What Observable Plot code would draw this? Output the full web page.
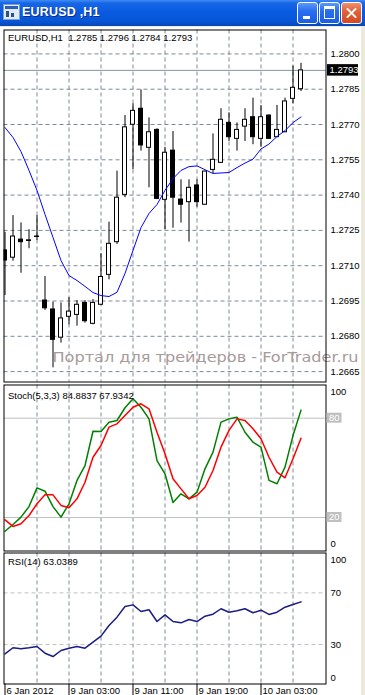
<!DOCTYPE html>
<html><head><meta charset="utf-8">
<script src="https://cdn.jsdelivr.net/npm/d3@7"></script>
<script src="https://cdn.jsdelivr.net/npm/@observablehq/plot@0.6"></script>
<style>
html,body{margin:0;padding:0;}
body{width:365px;height:695px;overflow:hidden;background:#ece9d8;position:relative;font-family:"Liberation Sans",Arial,sans-serif;}
#titlebar{position:absolute;left:0;top:0;width:365px;height:26px;
 background:linear-gradient(to bottom,#3f8cf3 0%,#1766e6 12%,#0a5be0 45%,#0756d8 80%,#0747b8 100%);}
#ttext{position:absolute;left:22px;top:5px;color:#fff;font:bold 12.5px "Liberation Sans",Arial,sans-serif;text-shadow:1px 1px 0 #0b2a8a;letter-spacing:0.2px;}
#icon{position:absolute;left:3px;top:4px;width:15px;height:14px;background:#dfe9f7;border:1px solid #7aa0d8;}
#icon .a{position:absolute;left:1px;top:1px;width:13px;height:3px;background:#2a5fc0;}
#icon .b{position:absolute;left:2px;top:6px;width:3px;height:6px;background:#305080;}
#icon .c{position:absolute;left:7px;top:8px;width:3px;height:4px;background:#305080;}
.btn{position:absolute;top:2px;width:19px;height:20px;border:1px solid #fff;border-radius:3px;
 background:linear-gradient(to bottom,#5a9af8 0%,#2a6ef0 40%,#1a5de2 100%);}
#bmin{left:297px;} #bmax{left:319px;}
#bclose{left:341px;background:linear-gradient(to bottom,#f09070 0%,#e2623a 40%,#d24a22 100%);}
#bmin .g{position:absolute;left:5px;top:13px;width:7px;height:3px;background:#fff;}
#bmax .g{position:absolute;left:4px;top:3px;width:9px;height:9px;border:1px solid #fff;border-top-width:3px;}
#bclose .g1,#bclose .g2{position:absolute;left:3px;top:9px;width:13px;height:2px;background:#fff;}
#bclose .g1{transform:rotate(45deg);} #bclose .g2{transform:rotate(-45deg);}
#chartbg{position:absolute;left:0;top:27px;width:361px;height:668px;background:#fff;}
.panel{position:absolute;left:2px;}
</style></head><body>
<div id="titlebar">
 <div id="icon"><div class="a"></div><div class="b"></div><div class="c"></div></div>
 <div id="ttext">EURUSD ,H1</div>
 <div class="btn" id="bmin"><div class="g"></div></div>
 <div class="btn" id="bmax"><div class="g"></div></div>
 <div class="btn" id="bclose"><div class="g1"></div><div class="g2"></div></div>
</div>
<div id="chartbg"></div>
<div class="panel" id="p1" style="top:28px"></div>
<div class="panel" id="p2" style="top:383px"></div>
<div class="panel" id="p3" style="top:551px"></div>
<script>
// ---- data (hourly bars, 6 Jan 2012 19:00 .. 10 Jan 2012 08:00) ----
const opens  = [1.27165,1.27134,1.27211,1.27205,1.27222,1.26952,1.26914,1.26794,1.26883,1.26891,1.26942,1.26853,1.26934,1.27061,1.27200,1.27401,1.27699,1.27767,1.27601,1.27677,1.27380,1.27589,1.27381,1.27370,1.27441,1.27359,1.27507,1.27537,1.27707,1.27639,1.27691,1.27731,1.27639,1.27738,1.27646,1.27667,1.27809,1.2785];
const highs  = [1.27242,1.27313,1.27282,1.27253,1.27313,1.27054,1.26945,1.26942,1.26964,1.26952,1.26952,1.26956,1.27151,1.27285,1.27502,1.27738,1.27788,1.27847,1.27728,1.27682,1.27603,1.27670,1.27465,1.27465,1.27465,1.27502,1.27660,1.27767,1.27750,1.27707,1.27767,1.27812,1.27781,1.27741,1.27781,1.27812,1.27948,1.2796];
const lows   = [1.26973,1.27119,1.27068,1.27172,1.27207,1.26910,1.26666,1.26771,1.26849,1.26843,1.26856,1.26849,1.26931,1.27040,1.27190,1.27389,1.27508,1.27587,1.27431,1.27381,1.27253,1.27259,1.27281,1.27200,1.27349,1.27356,1.27491,1.27535,1.27628,1.27587,1.27628,1.27614,1.27603,1.27637,1.27645,1.27666,1.27788,1.2784];
const closes = [1.27122,1.27224,1.27200,1.27208,1.27224,1.26919,1.26785,1.26876,1.26905,1.26934,1.26864,1.26942,1.27052,1.27193,1.27389,1.27688,1.27758,1.27611,1.27667,1.27384,1.27580,1.27389,1.27359,1.27431,1.27370,1.27500,1.27550,1.27720,1.27646,1.27677,1.27720,1.27646,1.27731,1.27639,1.27677,1.27798,1.27856,1.2793];
const ma     = [1.27687,1.27645,1.27585,1.27505,1.27420,1.27318,1.27220,1.27122,1.27058,1.27037,1.27012,1.26986,1.26973,1.26969,1.26987,1.27067,1.27165,1.27262,1.27322,1.27360,1.27420,1.27470,1.27505,1.27521,1.27524,1.27508,1.27492,1.27494,1.27496,1.27517,1.27536,1.27553,1.27596,1.27617,1.27649,1.27674,1.27708,1.27732];
const stochK = [11.7,15.8,20.2,26.6,37.9,35.9,26.6,20.2,28.3,42.4,51.4,72.1,72.0,77.6,78.6,86.3,91.7,86.6,79.6,54.4,46.4,29.1,34.3,31.3,35.3,49.4,59.5,77.6,79.6,80.6,71.5,65.5,62.5,42.4,40.4,50.4,69.5,84.8837];
const stochD = [18.6,14.6,16.2,21.2,28.3,33.7,33.7,27.3,25.9,31.3,41.3,56.4,63.5,74.6,76.6,81.6,86.6,88.7,85.7,71.5,58.5,43.4,37.3,31.3,33.3,38.3,48.4,62.5,72.6,79.6,78.6,73.6,67.6,56.4,47.4,44.0,55.5,67.9342];
const rsi    = [22.8,27.5,26.7,27.5,28.5,23.3,20.7,25.4,27.2,28.5,27.2,31.8,36.5,44.7,51.2,59.4,60.7,55.6,56.9,47.8,53.0,47.8,46.8,49.4,47.8,51.9,53.5,57.7,55.0,56.1,57.7,54.6,56.6,53.3,55.0,58.9,61.0,63.0389];
const priceTicks = [1.2665,1.2680,1.2695,1.2710,1.2725,1.2740,1.2755,1.2770,1.2785,1.2800];
const gridIdx = [4,8,12,16,20,24,28,32,36];
const timeIdx = [0,8,16,24,32];
const timeLabels = ["6 Jan 2012","9 Jan 03:00","9 Jan 11:00","9 Jan 19:00","10 Jan 03:00"];
const stochLevels = [80,20];
const stochAxis = [100,0];
const rsiLevels = [70,30];
const rsiAxis = [100,70,30,0];
const mainTitle = "EURUSD,H1\u00a0\u00a01.2785 1.2796 1.2784 1.2793";
const stochTitle = "Stoch(5,3,3) 84.8837 67.9342";
const rsiTitle = "RSI(14) 63.0389";
const watermark = "Портал для трейдеров - ForTrader.ru";

// ---- build ----
const N = opens.length;
const idx = d3.range(N);
const bars = idx.map(i => ({i, o: opens[i], h: highs[i], l: lows[i], c: closes[i]}));
const GRID = "#7b8a9a";
const FONT = "'Liberation Sans', Arial, sans-serif";
const common = {
  width: 360, marginLeft: 1.5, marginRight: 36.5,
  x: {domain: [-0.125, 40.125], axis: null},
  style: {fontFamily: FONT, fontSize: "9.5px", overflow: "visible", background: "transparent", color: "black"}
};
const vGrid = () => Plot.ruleX(gridIdx, {stroke: GRID, strokeDasharray: "4,3"});
const shiftText = (svg, txt, dy) => svg.selectAll("text").filter(function () { return this.textContent === txt; })
  .attr("transform", function () { return (this.getAttribute("transform") || "") + ` translate(0,${dy})`; });
const tag = (svg, x, y, w, h, bg, txt) => {
  svg.append("rect").attr("x", x).attr("y", y - h / 2).attr("width", w).attr("height", h).attr("fill", bg);
  svg.append("text").attr("x", x + 2.5).attr("y", y).attr("dy", "0.34em").attr("fill", "white")
    .attr("text-anchor", "start").style("font-family", FONT).style("font-size", "9.5px").text(txt);
};

const main = Plot.plot({
  ...common, height: 355, marginTop: 1.5, marginBottom: 1.5,
  y: {domain: [1.266058, 1.281016], axis: null},
  marks: [
    Plot.ruleY(priceTicks, {stroke: GRID, strokeDasharray: "4,3"}),
    vGrid(),
    Plot.ruleY([closes[N - 1]], {stroke: "#8794a2"}),
    Plot.ruleX(bars, {x: "i", y1: "l", y2: "h", stroke: "black", clip: "frame"}),
    Plot.rect(bars.filter(d => d.c >= d.o), {x1: d => d.i - 0.25, x2: d => d.i + 0.25, y1: "o", y2: "c", fill: "white", stroke: "black", clip: "frame"}),
    Plot.rect(bars.filter(d => d.c < d.o), {x1: d => d.i - 0.25, x2: d => d.i + 0.25, y1: "o", y2: "c", fill: "black", stroke: "black", clip: "frame"}),
    Plot.line(idx, {x: i => i, y: i => ma[i], stroke: "#0000ff", strokeWidth: 1, clip: "frame"}),
    Plot.text(priceTicks, {y: d => d, text: d => d3.format(".4f")(d), frameAnchor: "right", textAnchor: "start", dx: 4.5, fill: "black"}),
    Plot.text([mainTitle], {frameAnchor: "top-left", lineAnchor: "middle", textAnchor: "start", dx: 4, dy: 7.8, fill: "black"}),
    Plot.text([watermark], {frameAnchor: "bottom-left", lineAnchor: "middle", textAnchor: "start", dx: 48.5, dy: -24.5, fill: "#a99a9a", fontSize: 14, fontFamily: "'DejaVu Sans', sans-serif"}),
    Plot.frame({stroke: "black"})
  ]
});
document.getElementById("p1").appendChild(main);
{
  const svg = d3.select(main);
  const y = main.scale("y").apply(closes[N - 1]);
  const xr = main.scale("x").range[1];
  tag(svg, xr + 1.5, y, 31, 11.5, "black", d3.format(".4f")(closes[N - 1]));
  svg.selectAll("text").filter(function () { return this.textContent === watermark; })
    .attr("textLength", 306).attr("lengthAdjust", "spacingAndGlyphs");
}

const stoch = Plot.plot({
  ...common, height: 169, marginTop: 1.5, marginBottom: 1.5,
  y: {domain: [-0.24, 100.06], axis: null},
  marks: [
    vGrid(),
    Plot.ruleY(stochLevels, {stroke: "#c0c0c0"}),
    Plot.line(idx, {x: i => i, y: i => stochK[i], stroke: "#008000", clip: "frame"}),
    Plot.line(idx, {x: i => i, y: i => stochD[i], stroke: "#ff0000", clip: "frame"}),
    Plot.text(stochAxis, {y: d => d, text: d => String(d), frameAnchor: "right", textAnchor: "start", dx: 4.5, fill: "black"}),
    Plot.text([stochTitle], {frameAnchor: "top-left", lineAnchor: "middle", textAnchor: "start", dx: 4, dy: 10.5, fill: "black"}),
    Plot.frame({stroke: "black"})
  ]
});
document.getElementById("p2").appendChild(stoch);
{
  const svg = d3.select(stoch);
  shiftText(svg, "100", 7);
  shiftText(svg, "0", -7);
  const xr = stoch.scale("x").range[1];
  for (const v of stochLevels) tag(svg, xr + 1, stoch.scale("y").apply(v), 15, 10, "#c0c0c0", String(v));
}

const rsiChart = Plot.plot({
  ...common, height: 153, marginTop: 1.5, marginBottom: 20.5,
  y: {domain: [-0.54, 100.85], axis: null},
  marks: [
    vGrid(),
    Plot.ruleY(rsiLevels, {stroke: "#c0c0c0", strokeDasharray: "4,3"}),
    Plot.line(idx, {x: i => i, y: i => rsi[i], stroke: "#1c1c84", clip: "frame"}),
    Plot.text(rsiAxis, {y: d => d, text: d => String(d), frameAnchor: "right", textAnchor: "start", dx: 4.5, fill: "black"}),
    Plot.text([rsiTitle], {frameAnchor: "top-left", lineAnchor: "middle", textAnchor: "start", dx: 4, dy: 9.2, fill: "black"}),
    Plot.ruleX(timeIdx, {x: d => d, y1: -0.54, y2: -10, stroke: "black"}),
    Plot.text(timeIdx, {x: d => d, y: -0.54, text: (d, k) => timeLabels[k], textAnchor: "start", lineAnchor: "top", dx: 1.5, dy: 3.5, fill: "black"}),
    Plot.frame({stroke: "black"})
  ]
});
document.getElementById("p3").appendChild(rsiChart);
{
  const svg = d3.select(rsiChart);
  shiftText(svg, "100", 5.7);
  shiftText(svg, "0", -5.5);
}
</script>
</body></html>
